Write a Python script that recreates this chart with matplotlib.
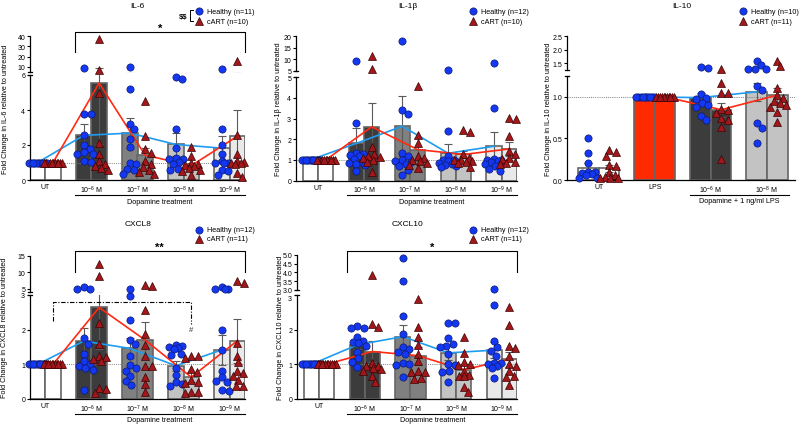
import numpy as np
import matplotlib
matplotlib.use('Agg')
import matplotlib.pyplot as plt
from matplotlib.lines import Line2D
from matplotlib.transforms import blended_transform_factory

plt.rcParams['font.family'] = ['Liberation Sans', 'DejaVu Sans']
plt.rcParams['mathtext.default'] = 'regular'

# ---------------- data ----------------
DOSE4 = ['UT', '10$^{-6}$ M', '10$^{-7}$ M', '10$^{-8}$ M', '10$^{-9}$ M']
IL10_groups = ['UT', 'LPS', '10$^{-6}$ M', '10$^{-8}$ M']

IL6_healthy = [
    [1.0] * 11,
    [9.0, 3.75, 3.75, 2.55, 2.0, 1.8, 1.6, 1.5, 1.5, 1.1, 1.05],
    [10.0, 5.2, 3.2, 2.9, 2.35, 1.9, 1.0, 0.9, 0.65, 0.55, 0.35],
    [5.9, 5.75, 2.9, 1.85, 1.25, 1.2, 1.2, 1.05, 0.9, 0.65, 0.55],
    [7.7, 2.9, 2.0, 1.5, 1.1, 1.0, 1.0, 0.95, 0.6, 0.5, 0.3],
]
IL6_cart = [
    [1.0] * 10,
    [37.0, 7.0, 5.0, 2.1, 1.5, 1.1, 0.9, 0.8, 0.7, 0.55],
    [4.5, 2.5, 1.75, 1.55, 1.1, 0.9, 0.75, 0.55, 0.45, 0.35],
    [1.9, 1.4, 1.0, 0.9, 0.85, 0.8, 0.7, 0.55, 0.5, 0.3],
    [15.5, 2.6, 1.5, 1.1, 1.05, 1.0, 1.0, 0.9, 0.4, 0.15],
]
IL6_h_mean = [1.0, 2.55, 2.68, 2.03, 1.82]
IL6_c_mean = [1.0, 5.54, 1.42, 0.82, 2.5]
IL6_h_sem = [0, 0.65, 0.88, 0.65, 0.68]
IL6_c_sem = [0, 3.5, 0.4, 0.15, 1.48]

IL1b_healthy = [
    [1.0] * 12,
    [9.2, 2.8, 1.35, 1.3, 1.25, 1.2, 1.05, 0.9, 0.85, 0.8, 0.75, 0.45],
    [17.8, 3.4, 3.2, 1.35, 1.2, 1.0, 0.95, 0.9, 0.8, 0.7, 0.5, 0.25],
    [5.5, 2.4, 1.2, 1.0, 1.0, 0.95, 0.9, 0.85, 0.8, 0.75, 0.7, 0.65],
    [8.5, 3.5, 1.05, 1.0, 1.0, 0.95, 0.9, 0.85, 0.8, 0.7, 0.55, 0.45],
]
IL1b_cart = [
    [1.0] * 10,
    [11.2, 5.8, 1.6, 1.3, 1.2, 1.15, 1.1, 1.0, 0.9, 0.4],
    [4.6, 2.2, 1.8, 1.2, 1.1, 1.0, 0.95, 0.85, 0.75, 0.6],
    [2.45, 2.35, 1.3, 1.1, 1.0, 1.0, 0.95, 0.9, 0.85, 0.65],
    [3.05, 3.0, 2.15, 1.45, 1.3, 1.1, 1.05, 0.9, 0.85, 0.8],
]
IL1b_h_mean = [1.0, 1.8, 2.63, 1.32, 1.66]
IL1b_c_mean = [1.0, 2.6, 1.5, 1.26, 1.53]
IL1b_h_sem = [0, 0.73, 1.44, 0.45, 0.68]
IL1b_c_sem = [0, 1.14, 0.55, 0.18, 0.32]

IL10_healthy = [
    [0.51, 0.33, 0.2, 0.1, 0.1, 0.08, 0.07, 0.06, 0.03, 0.02],
    [1.0] * 10,
    [1.37, 1.33, 1.03, 0.98, 0.97, 0.93, 0.9, 0.88, 0.77, 0.72],
    [1.6, 1.42, 1.3, 1.3, 1.28, 1.13, 1.08, 0.68, 0.63, 0.44],
]
IL10_cart = [
    [0.36, 0.34, 0.29, 0.18, 0.17, 0.1, 0.06, 0.04, 0.03, 0.02, 0.02],
    [1.0] * 11,
    [1.3, 1.16, 1.05, 1.05, 0.85, 0.84, 0.8, 0.75, 0.72, 0.64, 0.25],
    [1.6, 1.38, 1.1, 1.02, 0.98, 0.95, 0.92, 0.9, 0.88, 0.82, 0.7],
]
IL10_h_mean = [0.144, 1.0, 0.99, 1.06]
IL10_c_mean = [0.14, 1.0, 0.845, 1.02]
IL10_h_sem = [0.065, 0, 0.05, 0.11]
IL10_c_sem = [0.04, 0, 0.085, 0.08]

CXCL8_healthy = [
    [1.0] * 12,
    [5.7, 5.0, 5.0, 1.75, 1.6, 1.3, 1.1, 1.0, 0.95, 0.9, 0.85, 0.25],
    [5.0, 2.98, 2.28, 1.7, 1.58, 1.25, 0.98, 0.9, 0.82, 0.67, 0.53, 0.4],
    [1.56, 1.52, 1.49, 1.47, 1.45, 1.3, 1.28, 0.9, 0.7, 0.5, 0.42, 0.38],
    [5.5, 5.0, 5.0, 5.0, 2.0, 1.4, 0.82, 0.63, 0.53, 0.5, 0.27, 0.24],
]
CXCL8_cart = [
    [1.0] * 11,
    [12.5, 9.0, 2.2, 1.6, 1.25, 1.2, 1.15, 1.1, 0.33, 0.3, 0.17],
    [6.2, 5.8, 2.58, 1.87, 1.55, 1.25, 0.96, 0.96, 0.63, 0.43, 0.2],
    [1.25, 1.25, 1.17, 0.87, 0.79, 0.56, 0.5, 0.46, 0.21, 0.21, 0.17],
    [7.3, 6.8, 1.62, 1.25, 1.06, 0.82, 0.74, 0.67, 0.56, 0.38, 0.38],
]
CXCL8_h_mean = [1.0, 1.67, 1.46, 0.96, 1.42]
CXCL8_c_mean = [1.0, 2.64, 1.7, 0.63, 1.68]
CXCL8_h_sem = [0, 0.37, 0.29, 0.14, 0.43]
CXCL8_c_sem = [0, 1.2, 0.53, 0.14, 0.63]

CXCL10_healthy = [
    [1.0] * 12,
    [2.1, 2.05, 2.04, 1.78, 1.68, 1.64, 1.62, 1.54, 1.37, 1.18, 1.06, 0.91],
    [4.8, 3.5, 2.4, 1.88, 1.5, 1.45, 1.35, 1.3, 1.05, 1.0, 0.98, 0.63],
    [2.18, 2.18, 1.75, 1.6, 1.54, 1.5, 1.3, 1.01, 0.98, 0.82, 0.79, 0.48],
    [3.05, 2.7, 1.68, 1.5, 1.38, 1.25, 1.05, 1.03, 1.0, 0.95, 0.88, 0.6],
]
CXCL10_cart = [
    [1.0] * 11,
    [3.85, 2.15, 2.07, 1.05, 0.96, 0.95, 0.9, 0.87, 0.8, 0.67, 0.5],
    [2.88, 2.07, 1.78, 1.55, 1.3, 1.1, 0.8, 0.79, 0.78, 0.62, 0.58],
    [1.78, 1.32, 1.08, 1.01, 0.98, 0.82, 0.7, 0.67, 0.65, 0.36, 0.21],
    [2.64, 2.14, 1.54, 1.46, 1.25, 1.0, 0.96, 0.8, 0.67, 0.63, 0.4],
]
CXCL10_h_mean = [1.0, 1.56, 1.8, 1.33, 1.41]
CXCL10_c_mean = [1.0, 1.37, 1.25, 0.84, 1.15]
CXCL10_h_sem = [0, 0.12, 0.34, 0.2, 0.22]
CXCL10_c_sem = [0, 0.3, 0.26, 0.17, 0.22]

# ---------------- style ----------------
W, H = 800, 427
fig = plt.figure(figsize=(8, 4.27), dpi=100)

GRAYS = ['#ffffff', '#3c3c3c', '#808080', '#c3c3c3', '#e9e9e9']
IL10_COLS = ['#ffffff', '#ff2a00', '#3c3c3c', '#c3c3c3']
BLUE_PT, BLUE_EDGE = '#1438f2', '#0b1a70'
RED_PT, RED_EDGE = '#a3161a', '#3a0505'
BLUE_LINE, RED_LINE = '#1f9cf0', '#ff2a14'
EDGE = '#666666'
LEG_FS = 5.2


def fx(x):
    return x / W


def fy(y):
    return 1 - y / H


def fig_line(xs, ys, **kw):
    fig.add_artist(Line2D([fx(v) for v in xs], [fy(v) for v in ys],
                          transform=fig.transFigure, **kw))


def swarm(ypx, d=6.6, maxw=9.0):
    ypx = np.asarray(ypx, float)
    order = np.argsort(-ypx)
    placed = []
    xs = np.zeros(len(ypx))
    cands = [0.0]
    for k in range(1, 19):
        cands += [k * 0.5, -k * 0.5]
    for i in order:
        y = ypx[i]
        best = None
        for c in cands:
            if all((c - px) ** 2 + (y - py) ** 2 >= d * d for px, py in placed):
                best = c
                break
        if best is None:
            best = max(cands, key=lambda c: min(((c - px) ** 2 + (y - py) ** 2)
                                              for px, py in placed))
        xs[i] = best
        placed.append((best, y))
    return xs


def draw_panel(P):
    x0, x1 = P['xpix']
    lo_top, lo_bot = P['lo_pix']
    up_top, up_bot = P['up_pix']
    axl = fig.add_axes([fx(x0), fy(lo_bot), (x1 - x0) / W, (lo_bot - lo_top) / H])
    axu = fig.add_axes([fx(x0), fy(up_bot), (x1 - x0) / W, (up_bot - up_top) / H])
    for ax in (axl, axu):
        ax.set_xlim(P['xlim'])
        ax.patch.set_alpha(0)
        for s in ('top', 'right'):
            ax.spines[s].set_visible(False)
        ax.spines['left'].set_linewidth(0.9)
        ax.tick_params(axis='y', direction='out', length=2.5, width=0.8,
                       labelsize=5, pad=1)
    axl.set_ylim(P['lo_lim'])
    axu.set_ylim(P['up_lim'])
    axu.spines['bottom'].set_visible(False)
    axu.set_xticks([])
    axl.spines['bottom'].set_linewidth(0.9)
    axl.set_yticks(P['lo_ticks'])
    axl.set_yticklabels(P['lo_ticklabels'])
    axu.set_yticks(P['up_ticks'])
    axu.set_yticklabels(P['up_ticklabels'])
    if P.get('split_labels'):
        axl.get_yticklabels()[-1].set_va('top')
    # break serifs
    fig_line([x0 - 2, x0 + 2], [up_bot, up_bot], color='black', lw=0.9)
    fig_line([x0 - 2, x0 + 2], [lo_top, lo_top], color='black', lw=0.9)

    centers = P['centers']
    bw = P['bw']
    axl.set_xticks(centers)
    axl.set_xticklabels(P['labels'])
    axl.tick_params(axis='x', length=0, labelsize=5, pad=2.5)

    hx = [c - bw / 2 for c in centers]
    cx = [c + bw / 2 for c in centers]
    axl.bar(hx, P['h_mean'], width=bw, color=P['colors'], edgecolor=EDGE,
            linewidth=1.2, zorder=1)
    axl.bar(cx, P['c_mean'], width=bw, color=P['colors'], edgecolor=EDGE,
            linewidth=1.2, zorder=1)
    axl.axhline(1.0, color='#808080', lw=0.7, ls=(0, (1, 1.2)), zorder=2)

    for ax in (axl, axu):
        for xs, ms, ss in ((hx, P['h_mean'], P['h_sem']), (cx, P['c_mean'], P['c_sem'])):
            for x, m, s in zip(xs, ms, ss):
                if s > 0:
                    ax.errorbar([x], [m], yerr=[s], fmt='none', ecolor='#5a5a5a',
                                elinewidth=0.8, capsize=2.6, capthick=0.8, zorder=3)

    lg = P['line_groups']
    axl.plot([hx[i] for i in lg], [P['h_mean'][i] for i in lg], color=BLUE_LINE,
             lw=1.2, zorder=4)
    axl.plot([cx[i] for i in lg], [P['c_mean'][i] for i in lg], color=RED_LINE,
             lw=1.2, zorder=4)

    ppu = (x1 - x0) / (P['xlim'][1] - P['xlim'][0])
    lo_max = P['lo_lim'][1]
    up_min = P['up_lim'][0]
    for xs, data, mk, fc, ec, msz in ((hx, P['h_data'], 'o', BLUE_PT, BLUE_EDGE, 5.2),
                                      (cx, P['c_data'], '^', RED_PT, RED_EDGE, 5.2)):
        for x, vals in zip(xs, data):
            vals = np.asarray(vals, float)
            on_up = vals > lo_max
            ypx = np.array([
                (axu if u else axl).transData.transform((x, v))[1]
                for v, u in zip(vals, on_up)])
            offs = swarm(ypx) / ppu
            for v, u, o in zip(vals, on_up, offs):
                ax = axu if u else axl
                vv = max(v, up_min) if u else v
                ax.plot([x + o], [vv], marker=mk, ms=msz, mfc=fc, mec=ec,
                        mew=0.5, ls='none', zorder=6, clip_on=False)
    return axl, axu


def legend(xc, y1, y2, n_h, n_c):
    fig.add_artist(Line2D([fx(xc)], [fy(y1)], marker='o', ms=5.2, mfc=BLUE_PT,
                          mec=BLUE_EDGE, mew=0.5, transform=fig.transFigure))
    fig.add_artist(Line2D([fx(xc)], [fy(y2)], marker='^', ms=5.2, mfc=RED_PT,
                          mec=RED_EDGE, mew=0.5, transform=fig.transFigure))
    fig.text(fx(xc + 8), fy(y1), f'Healthy (n={n_h})', fontsize=LEG_FS, va='center')
    fig.text(fx(xc + 8), fy(y2), f'cART (n={n_c})', fontsize=LEG_FS, va='center')


def sig_bracket(ax, xa, xb, ytop, yleg, label, ylab):
    tr = blended_transform_factory(ax.transData, fig.transFigure)
    ax.add_line(Line2D([xa, xa, xb, xb], [fy(yleg), fy(ytop), fy(ytop), fy(yleg)],
                       transform=tr, color='black', lw=0.8, clip_on=False))
    ax.text((xa + xb) / 2, fy(ylab), label, transform=tr, ha='center',
            va='center', fontsize=8, fontweight='bold')


def under_line(ax, xa, xb, yline, ytext, label):
    tr = blended_transform_factory(ax.transData, fig.transFigure)
    ax.add_line(Line2D([xa, xb], [fy(yline), fy(yline)], transform=tr,
                       color='black', lw=0.8, clip_on=False))
    ax.text((xa + xb) / 2, fy(ytext), label, transform=tr, ha='center',
            va='center', fontsize=5.2)


C5 = [0, 3, 6, 9, 12]

# ---- IL-6 ----
axl, axu = draw_panel(dict(
    xpix=(30, 245), lo_pix=(76, 181), up_pix=(37.3, 72.8), xlim=(-1.0, 13.0),
    lo_lim=(0, 6), up_lim=(5, 40), lo_ticks=[0, 2, 4, 6], lo_ticklabels=['0', '2', '4', '6'],
    up_ticks=[10, 20, 30, 40], up_ticklabels=['10', '20', '30', '40'],
    centers=C5, bw=1.0, labels=DOSE4, colors=GRAYS,
    h_data=IL6_healthy, c_data=IL6_cart, h_mean=IL6_h_mean, c_mean=IL6_c_mean,
    h_sem=IL6_h_sem, c_sem=IL6_c_sem, line_groups=[0, 1, 2, 3, 4]))
sig_bracket(axu, 1.9, 13.0, 33, 53, '*', 29)
under_line(axl, 1.9, 13.0, 195.7, 202.3, 'Dopamine treatment')
fig.text(fx(137), fy(6), 'IL-6', fontsize=6, ha='center', va='center')
fig.text(fx(6), fy(109), 'Fold Change in IL-6 relative to untreated', fontsize=5.2,
         rotation=90, ha='center', va='center')
legend(199, 12, 22, 11, 10)
fig.text(fx(187), fy(17), r'\$\$', fontsize=5.5, ha='right', va='center', fontweight='bold')
fig_line([193, 189.5, 189.5, 193], [11, 11, 22, 22], color='black', lw=0.7)

# ---- IL-1beta ----
axl, axu = draw_panel(dict(
    xpix=(296, 517), lo_pix=(78.3, 181.5), up_pix=(37.3, 71.7), xlim=(-1.45, 13.0),
    lo_lim=(0, 5), up_lim=(5, 20), lo_ticks=[0, 1, 2, 3, 4, 5],
    lo_ticklabels=['0', '1', '2', '3', '4', '5'],
    up_ticks=[5, 10, 15, 20], up_ticklabels=['5', '10', '15', '20'],
    centers=C5, bw=1.0, labels=DOSE4, colors=GRAYS,
    h_data=IL1b_healthy, c_data=IL1b_cart, h_mean=IL1b_h_mean, c_mean=IL1b_c_mean,
    h_sem=IL1b_h_sem, c_sem=IL1b_c_sem, line_groups=[0, 1, 2, 3, 4]))
under_line(axl, 1.86, 13.0, 195.7, 202.3, 'Dopamine treatment')
fig.text(fx(408), fy(6), 'IL-1β', fontsize=6, ha='center', va='center')
fig.text(fx(278), fy(109), 'Fold Change in IL-1β relative to untreated', fontsize=5.2,
         rotation=90, ha='center', va='center')
legend(473, 12, 22, 12, 10)

# ---- IL-10 ----
axl, axu = draw_panel(dict(
    xpix=(567, 795), lo_pix=(77, 181), up_pix=(37.3, 71), xlim=(-1.7, 10.5),
    lo_lim=(0, 1.25), up_lim=(1.25, 2.5), lo_ticks=[0, 0.5, 1.0],
    lo_ticklabels=['0.0', '0.5', '1.0'],
    up_ticks=[1.5, 2.0, 2.5], up_ticklabels=['1.5', '2.0', '2.5'],
    centers=[0, 3, 6, 9], bw=1.1, labels=IL10_groups, colors=IL10_COLS,
    h_data=IL10_healthy, c_data=IL10_cart, h_mean=IL10_h_mean, c_mean=IL10_c_mean,
    h_sem=IL10_h_sem, c_sem=IL10_c_sem, line_groups=[1, 2, 3]))
under_line(axl, 4.88, 10.17, 195.7, 201.7, 'Dopamine + 1 ng/ml LPS')
fig.text(fx(682), fy(6), 'IL-10', fontsize=6, ha='center', va='center')
fig.text(fx(548), fy(109), 'Fold Change in IL-10 relative to untreated', fontsize=5.2,
         rotation=90, ha='center', va='center')
legend(743, 12, 22, 10, 11)

# ---- CXCL8 ----
axl, axu = draw_panel(dict(
    xpix=(30, 245), lo_pix=(296, 400), up_pix=(256.7, 293.3), xlim=(-1.0, 13.0),
    lo_lim=(0, 3), up_lim=(4, 15), lo_ticks=[0, 1, 2, 3], lo_ticklabels=['0', '1', '2', '3'],
    up_ticks=[5, 10, 15], up_ticklabels=['5', '10', '15'],
    centers=C5, bw=1.0, labels=DOSE4, colors=GRAYS,
    h_data=CXCL8_healthy, c_data=CXCL8_cart, h_mean=CXCL8_h_mean, c_mean=CXCL8_c_mean,
    h_sem=CXCL8_h_sem, c_sem=CXCL8_c_sem, line_groups=[0, 1, 2, 3, 4]))
sig_bracket(axu, 1.9, 13.0, 252, 273, '**', 247.5)
under_line(axl, 1.9, 13.0, 414.7, 421, 'Dopamine treatment')
axl.plot([0.5, 0.5, 9.5, 9.5], [2.26, 2.81, 2.81, 2.16], color='black', lw=0.8,
         ls=(0, (4, 1.5, 1, 1.5)), zorder=5, clip_on=False)
axl.text(9.5, 2.0, '#', fontsize=5.5, ha='center', va='center', color='#333333')
fig.text(fx(138), fy(225), 'CXCL8', fontsize=6, ha='center', va='center')
fig.text(fx(5), fy(328), 'Fold Change in CXCL8 relative to untreated', fontsize=5.2,
         rotation=90, ha='center', va='center')
legend(199, 231, 240, 12, 11)

# ---- CXCL10 ----
axl, axu = draw_panel(dict(
    xpix=(297, 517), lo_pix=(296, 400), up_pix=(256, 290.7), xlim=(-1.45, 13.0),
    lo_lim=(0, 3), up_lim=(3.0, 5.0), lo_ticks=[0, 1, 2, 3], lo_ticklabels=['0', '1', '2', '3'],
    up_ticks=[3.0, 3.5, 4.0, 4.5, 5.0], up_ticklabels=['3.0', '3.5', '4.0', '4.5', '5.0'],
    centers=C5, bw=1.0, labels=DOSE4, colors=GRAYS, split_labels=True,
    h_data=CXCL10_healthy, c_data=CXCL10_cart, h_mean=CXCL10_h_mean, c_mean=CXCL10_c_mean,
    h_sem=CXCL10_h_sem, c_sem=CXCL10_c_sem, line_groups=[0, 1, 2, 3, 4]))
sig_bracket(axu, 1.86, 13.0, 252, 273, '*', 248)
under_line(axl, 1.86, 13.0, 414.7, 421, 'Dopamine treatment')
fig.text(fx(408), fy(225), 'CXCL10', fontsize=6, ha='center', va='center')
fig.text(fx(280), fy(328), 'Fold Change in CXCL10 relative to untreated', fontsize=5.2,
         rotation=90, ha='center', va='center')
legend(473, 231, 240, 12, 11)

fig.savefig('out.png', dpi=100, facecolor='white')
